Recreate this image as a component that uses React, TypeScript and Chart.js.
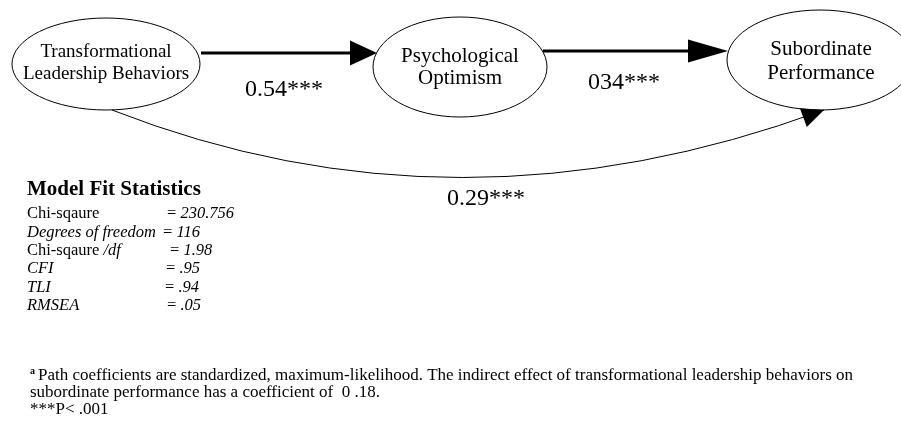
import React, { useEffect, useRef } from "react";
import { Chart, registerables } from "chart.js";

Chart.register(...registerables);

// ---------- data ----------
const nodeNames: string[][] = [
  ["Transformational", "Leadership Behaviors"],
  ["Psychological", "Optimism"],
  ["Subordinate", "Performance"],
];
const pathLabels: string[] = ["0.54***", "034***", "0.29***"];
const fitTitle = "Model Fit Statistics";
const fitNames: string[] = ["Chi-sqaure", "Degrees of freedom", "Chi-sqaure /df", "CFI", "TLI", "RMSEA"];
const fitValues: string[] = ["230.756", "116", "1.98", ".95", ".94", ".05"];
const footnoteLines: string[] = [
  "Path coefficients are standardized, maximum-likelihood. The indirect effect of transformational leadership behaviors on",
  "subordinate performance has a coefficient of  0 .18.",
  "***P< .001",
];

// ---------- layout (positions in scale units) ----------
const W = 901;
const H = 421;
const SERIF = '"Liberation Serif", "Times New Roman", serif';
const nodeGeom = [
  { cx: 106, cy: 64, rx: 94, ry: 46, font: 19, base: [57, 79], tx: 106 },
  { cx: 460, cy: 67, rx: 87, ry: 50, font: 21, base: [62, 84], tx: 460 },
  { cx: 820, cy: 60, rx: 93, ry: 50, font: 21, base: [55, 79], tx: 821 },
];
const pathLabelPos = [
  { x: 245, y: 96 },
  { x: 588, y: 89 },
  { x: 447, y: 205 },
];
const fitLabelX = 27;
const fitValueX = [167, 163, 170, 166, 165, 167];
const fitBase = [218, 237, 255, 273, 292, 310];
const footBase = [380, 397, 414];

const diagramPlugin = {
  id: "diagram",
  afterDraw(chart: any) {
    const ctx: CanvasRenderingContext2D = chart.ctx;
    const xs = chart.scales.x;
    const ys = chart.scales.y;
    const X = (v: number) => xs.getPixelForValue(v);
    const Y = (v: number) => ys.getPixelForValue(v);
    const DX = (d: number) => Math.abs(X(d) - X(0));
    const DY = (d: number) => Math.abs(Y(d) - Y(0));
    ctx.save();
    ctx.fillStyle = "#000";
    ctx.strokeStyle = "#000";

    // ellipses + labels
    nodeGeom.forEach((g, i) => {
      ctx.beginPath();
      ctx.lineWidth = 1;
      ctx.ellipse(X(g.cx), Y(g.cy), DX(g.rx), DY(g.ry), 0, 0, Math.PI * 2);
      ctx.stroke();
      ctx.font = `${g.font}px ${SERIF}`;
      ctx.textAlign = "center";
      ctx.textBaseline = "alphabetic";
      nodeNames[i].forEach((t, j) => ctx.fillText(t, X(g.tx), Y(g.base[j])));
    });

    const head = (tx: number, ty: number, ang: number, len: number, half: number) => {
      const bx = tx - Math.cos(ang) * len;
      const by = ty - Math.sin(ang) * len;
      const nx = -Math.sin(ang) * half;
      const ny = Math.cos(ang) * half;
      ctx.beginPath();
      ctx.moveTo(tx, ty);
      ctx.lineTo(bx + nx, by + ny);
      ctx.lineTo(bx - nx, by - ny);
      ctx.closePath();
      ctx.fill();
    };

    // straight arrows
    const straight = [
      { x0: 201, x1: 377, y: 53, len: 27, half: 12.5 },
      { x0: 543, x1: 728, y: 51, len: 40, half: 11.5 },
    ];
    straight.forEach((a) => {
      ctx.beginPath();
      ctx.lineWidth = 3;
      ctx.moveTo(X(a.x0), Y(a.y));
      ctx.lineTo(X(a.x1) - a.len + 2, Y(a.y));
      ctx.stroke();
      head(X(a.x1), Y(a.y), 0, a.len, a.half);
    });

    // curved arrow
    const p0 = { x: X(112), y: Y(110) };
    const c = { x: X(457), y: Y(245) };
    const p2 = { x: X(824), y: Y(110) };
    ctx.beginPath();
    ctx.lineWidth = 1;
    ctx.moveTo(p0.x, p0.y);
    ctx.quadraticCurveTo(c.x, c.y, p2.x, p2.y);
    ctx.stroke();
    head(p2.x, p2.y, Math.atan2(p2.y - c.y, p2.x - c.x), 22, 10);

    // path coefficient labels
    ctx.textAlign = "left";
    ctx.font = `24px ${SERIF}`;
    pathLabels.forEach((t, i) => ctx.fillText(t, X(pathLabelPos[i].x), Y(pathLabelPos[i].y)));

    // model fit statistics
    ctx.font = `bold 21px ${SERIF}`;
    ctx.fillText(fitTitle, X(fitLabelX), Y(195));
    fitNames.forEach((name, i) => {
      const yb = Y(fitBase[i]);
      if (name.endsWith("/df")) {
        const plain = name.slice(0, name.length - 3);
        ctx.font = `16.5px ${SERIF}`;
        ctx.fillText(plain, X(fitLabelX), yb);
        const w = ctx.measureText(plain).width;
        ctx.font = `italic 16.5px ${SERIF}`;
        ctx.fillText("/df", X(fitLabelX) + w, yb);
      } else {
        ctx.font = `${i === 0 ? "" : "italic "}16.5px ${SERIF}`;
        ctx.fillText(name, X(fitLabelX), yb);
      }
      ctx.font = `16.5px ${SERIF}`;
      ctx.fillText("= ", X(fitValueX[i]), yb);
      const ew = ctx.measureText("= ").width;
      ctx.font = `italic 16.5px ${SERIF}`;
      ctx.fillText(fitValues[i], X(fitValueX[i]) + ew, yb);
    });

    // footnote
    ctx.font = `bold 10px ${SERIF}`;
    ctx.fillText("a", X(30), Y(footBase[0] - 6));
    ctx.font = `17px ${SERIF}`;
    ctx.fillText(footnoteLines[0], X(38), Y(footBase[0]));
    ctx.fillText(footnoteLines[1], X(30), Y(footBase[1]));
    ctx.fillText(footnoteLines[2], X(30), Y(footBase[2]));
    ctx.restore();
  },
};

export default function App() {
  const ref = useRef<HTMLCanvasElement>(null);
  useEffect(() => {
    if (!ref.current) return;
    const chart = new Chart(ref.current, {
      type: "scatter",
      data: {
        datasets: [
          {
            label: "nodes",
            data: nodeGeom.map((g) => ({ x: g.cx, y: g.cy })),
            pointRadius: 0,
            pointHoverRadius: 0,
          },
        ],
      },
      options: {
        animation: false,
        responsive: false,
        devicePixelRatio: 1,
        layout: { padding: 0 },
        events: [],
        plugins: { legend: { display: false }, tooltip: { enabled: false } },
        scales: {
          x: { type: "linear", min: 0, max: W, display: false },
          y: { type: "linear", min: 0, max: H, reverse: true, display: false },
        },
      },
      plugins: [diagramPlugin],
    });
    return () => chart.destroy();
  }, []);
  return (
    <div style={{ position: "fixed", left: 0, top: 0, width: W, height: H, background: "#fff" }}>
      <canvas ref={ref} width={W} height={H} style={{ display: "block" }} />
    </div>
  );
}
